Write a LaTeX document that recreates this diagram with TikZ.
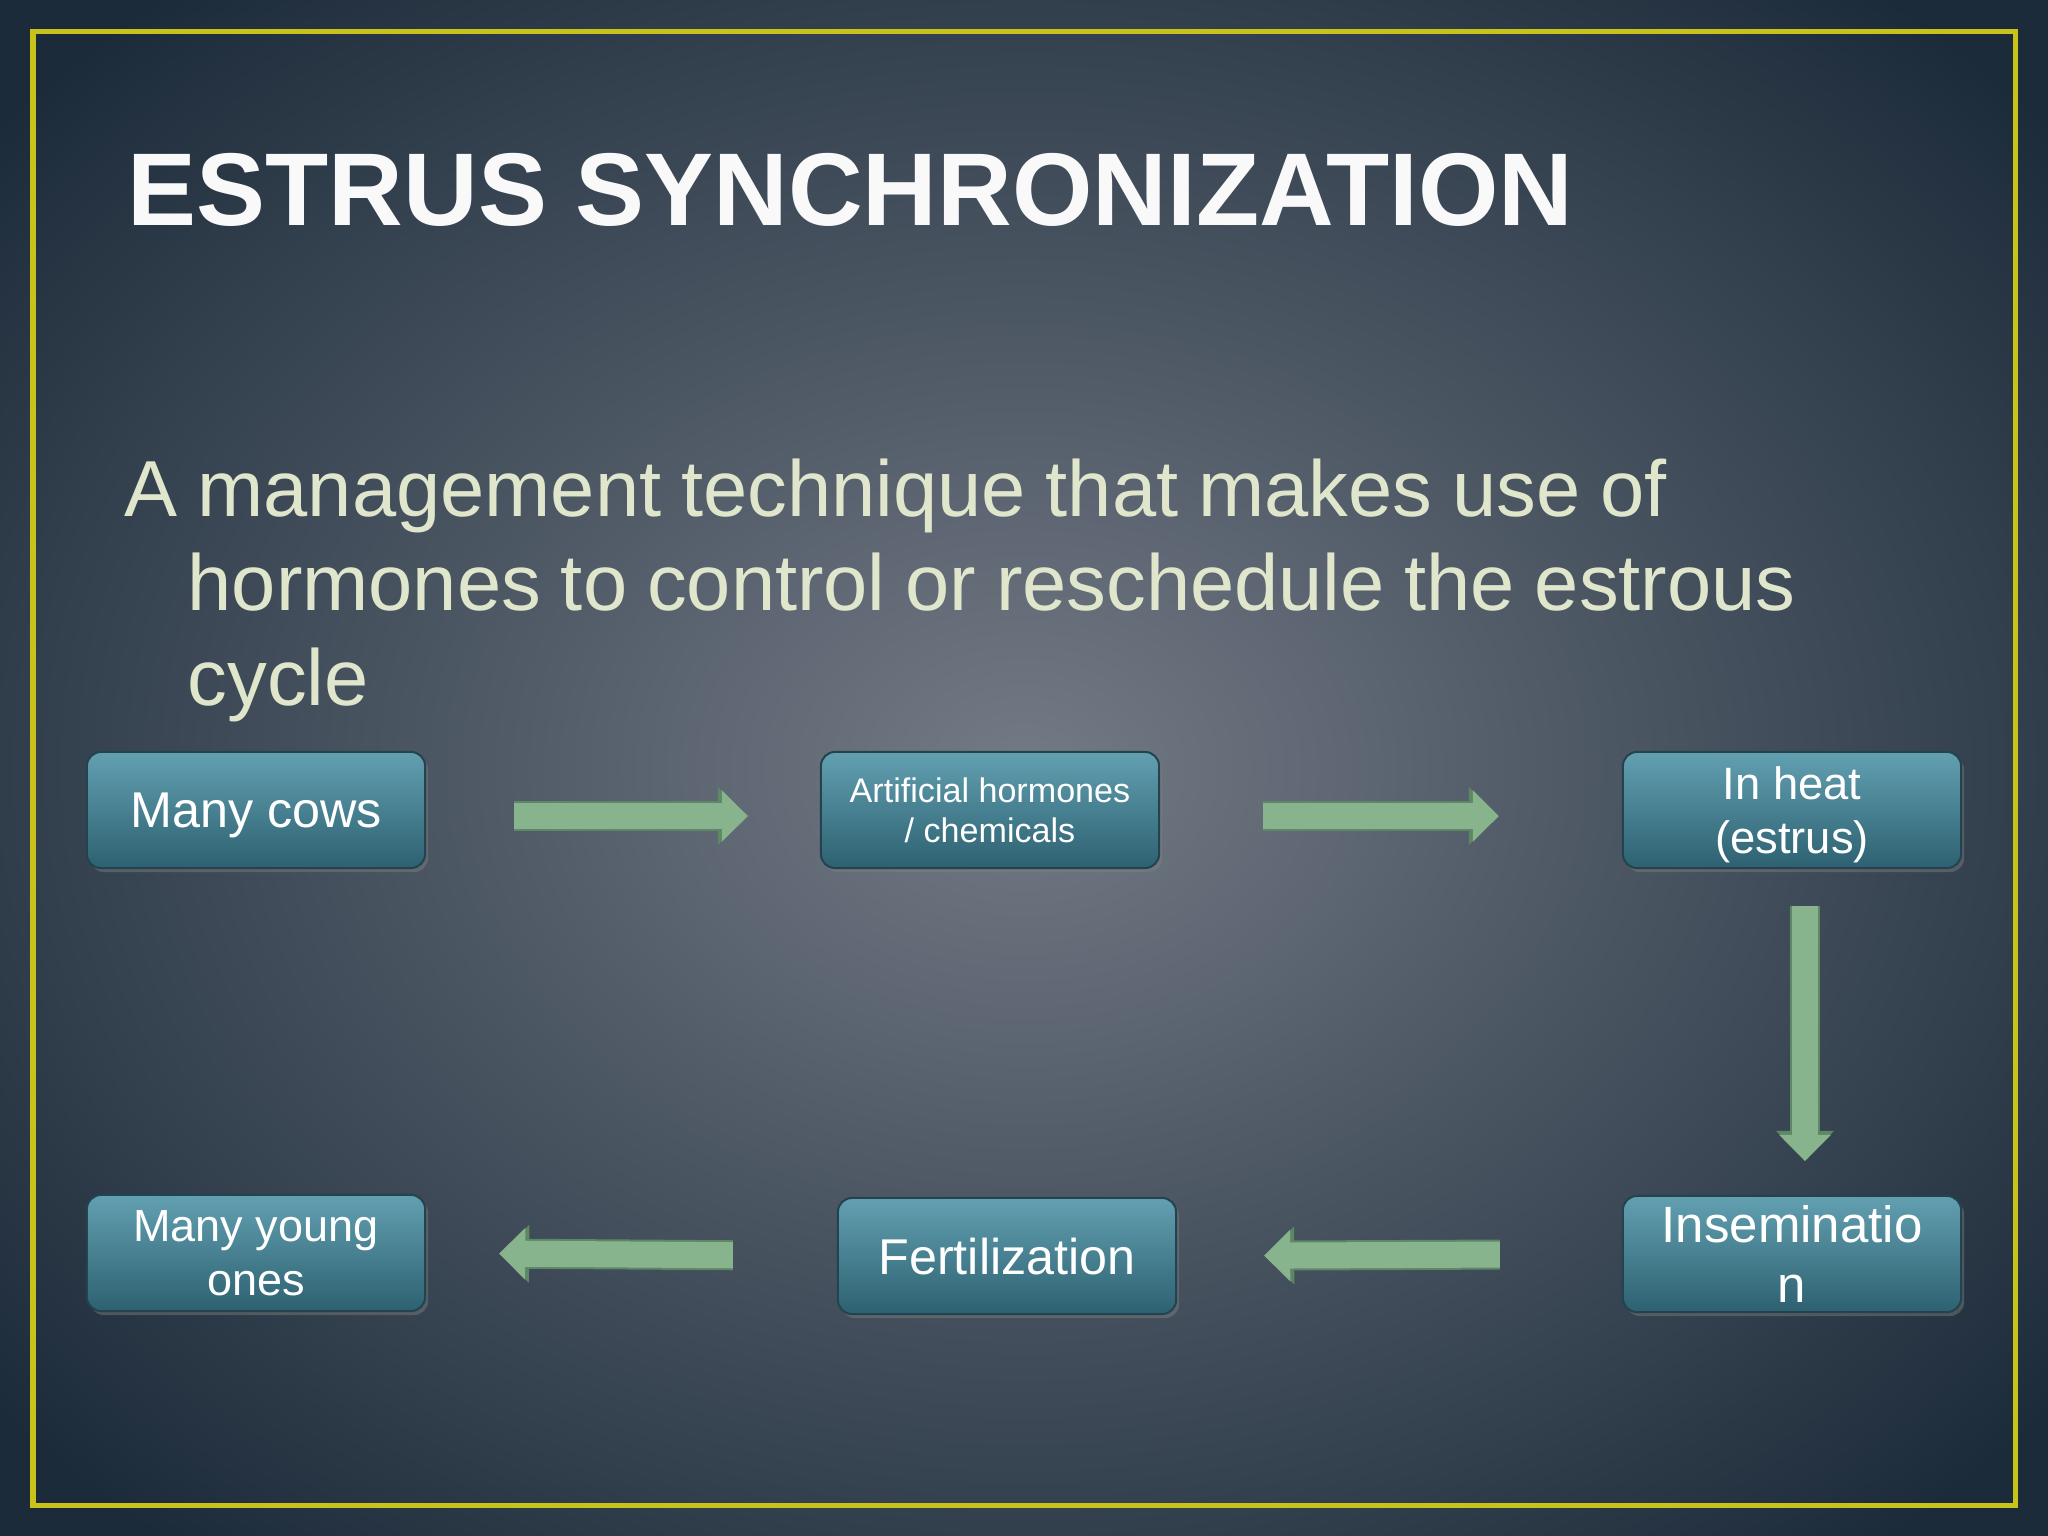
\documentclass[tikz,border=0pt]{standalone}
\usepackage{fontspec}
\setmainfont{Liberation Sans}
\usepackage{xcolor}
\usetikzlibrary{arrows.meta,calc,positioning,shadows}
\definecolor{bgin}{HTML}{737A85}
\definecolor{bgout}{HTML}{1C2B3A}
\definecolor{framecol}{HTML}{C9C21B}
\definecolor{bodycol}{HTML}{DFE6CC}
\definecolor{boxtop}{HTML}{62A0B1}
\definecolor{boxbot}{HTML}{2D6171}
\definecolor{boxedge}{HTML}{23434E}
\definecolor{arrowcol}{HTML}{88B48D}
\definecolor{arrowedge}{HTML}{5E8766}
\tikzset{%
	stepbox/.style = {draw=boxedge, line width=0.02cm, rounded corners=0.14cm, top color=boxtop, bottom color=boxbot, minimum width=3.38cm, minimum height=1.16cm, inner sep=0pt, text depth=0pt, text=white, align=center, font=\fontsize{14.3pt}{17pt}\selectfont, drop shadow={shadow xshift=0.03cm, shadow yshift=-0.04cm, opacity=0.45}},
	flow/.style    = {draw=arrowcol, line width=0.26cm, -{Triangle[width=0.50cm,length=0.26cm]},
		preaction={draw=arrowedge, line width=0.30cm, -{Triangle[width=0.56cm,length=0.30cm]}}},
}

\begin{document}
\begin{tikzpicture}[x=0.01cm,y=-0.01cm]
	\useasboundingbox (0,0) rectangle (2048,1536);
	\shade[inner color=bgin, outer color=bgout] (-300,-250) rectangle (2348,1786);  % background
	\draw[framecol, line width=0.05cm] (33,31) rectangle (2015,1505);
	\node[anchor=base west, inner sep=0pt, text=white!95!gray, font=\fontsize{29.4pt}{34pt}\selectfont\bfseries] (title) at (127,225) {ESTRUS SYNCHRONIZATION};
	\node[anchor=base west, inner sep=0pt, text=bodycol, text width=18cm, align=left, font=\fontsize{22.6pt}{27pt}\selectfont] (intro) at (124,516)
		{\spaceskip=0.25em\relax A management technique that makes use of\\ \hspace*{0.63cm}hormones to control or reschedule the estrous\\ \hspace*{0.63cm}cycle};
	% steps
	\node[stepbox] (cows) at (256,810) {Many cows};
	\node[stepbox, font=\fontsize{9.7pt}{11.5pt}\selectfont] (hormones) at (990,810) {Artificial hormones\\ / chemicals};
	\node[stepbox, font=\fontsize{12.9pt}{15.6pt}\selectfont] (heat) at (1792,810) {In heat\\ (estrus)};
	\node[stepbox, font=\fontsize{14.5pt}{17.3pt}\selectfont] (insem) at (1792,1254) {Inseminatio\\ n};
	\node[stepbox] (fert) at (1007,1256) {Fertilization};
	\node[stepbox, font=\fontsize{12.8pt}{15.4pt}\selectfont] (young) at (256,1253) {Many young\\ ones};
	% arrows
	\draw[flow, shorten <=0.88cm, shorten >=0.72cm] ([yshift=-0.06cm]cows.east) -- ([yshift=-0.06cm]hormones.west);
	\draw[flow, shorten <=1.03cm, shorten >=1.23cm] ([yshift=-0.06cm]hormones.east) -- ([yshift=-0.06cm]heat.west);
	\draw[flow, shorten <=0.37cm, shorten >=0.34cm] ([xshift=0.13cm]heat.south) -- ([xshift=0.13cm]insem.north);
	\draw[flow, shorten <=1.22cm, shorten >=0.87cm] (insem.west) -- (fert.east);
	\draw[flow, shorten <=1.04cm, shorten >=0.73cm] (fert.west) -- (young.east);
\end{tikzpicture}
\end{document}
